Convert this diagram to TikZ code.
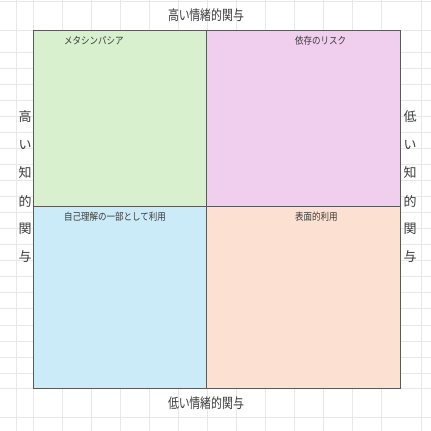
\documentclass[tikz,border=0pt]{standalone}
\usepackage{fontspec}
\setmainfont{Noto Sans CJK JP}
\newfontfamily\titlejp[RawFeature=+palt, FakeStretch=0.78]{Noto Sans CJK JP}
\newfontfamily\labeljp[FakeStretch=0.85]{Noto Sans CJK JP}
\definecolor{gridgray}{HTML}{E8E8E8}
\definecolor{framegray}{HTML}{5A5A5A}
\definecolor{inkgray}{HTML}{3A3A3A}
\definecolor{metagreen}{HTML}{D9F0CF}
\definecolor{riskpink}{HTML}{F0CEEE}
\definecolor{selfblue}{HTML}{CCEBF8}
\definecolor{surfpeach}{HTML}{FCE0D1}
\tikzset{
    quad/.style={draw=framegray, line width=1pt},
    qlabel/.style={anchor=west, inner sep=0pt, text=inkgray, font=\labeljp\fontsize{10}{12}\selectfont},
    axislabel/.style={inner sep=0pt, text=inkgray, font=\titlejp\fontsize{14}{16}\selectfont},
    sidechar/.style={inner sep=0pt, text=inkgray, font=\fontsize{13}{15}\selectfont}
}
\begin{document}
\begin{tikzpicture}[x=1pt,y=-1pt]
    \useasboundingbox[fill=white] (0,0) rectangle (431,431);
    % sheet grid
    \foreach \x in {16,33,62,...,381,421} {
        \draw[gridgray, line width=0.7pt] (\x,0) -- (\x,431);
    }
    \foreach \y in {1,30,388,417} {
        \draw[gridgray, line width=0.7pt] (0,\y) -- (431,\y);
    }
    \foreach \k in {0,...,20} {
        \draw[gridgray, line width=0.7pt] (0,52+16.05*\k) -- (431,52+16.05*\k);
    }
    % quadrants
    \draw[quad, fill=metagreen] (33,30) rectangle (206,206);
    \draw[quad, fill=riskpink] (206,30) rectangle (400,206);
    \draw[quad, fill=selfblue] (33,206) rectangle (206,388);
    \draw[quad, fill=surfpeach] (206,206) rectangle (400,388);
    \node[qlabel] (meta) at (64,41) {メタシンパシア};
    \node[qlabel] (risk) at (295,41) {依存のリスク};
    \node[qlabel] (self) at (64,217) {自己理解の一部として利用};
    \node[qlabel] (surface) at (295,217) {表面的利用};
    % axis titles
    \node[axislabel] (hiemo) at (206,15) {高い情緒的関与};
    \node[axislabel] (loemo) at (206,403) {低い情緒的関与};
    \foreach \c [count=\i] in {高,い,知,的,関,与} {
        \node[sidechar] (hicog\i) at (25,89+28*\i) {\c};
    }
    \foreach \c [count=\i] in {低,い,知,的,関,与} {
        \node[sidechar] (locog\i) at (410,89+28*\i) {\c};
    }
\end{tikzpicture}
\end{document}
